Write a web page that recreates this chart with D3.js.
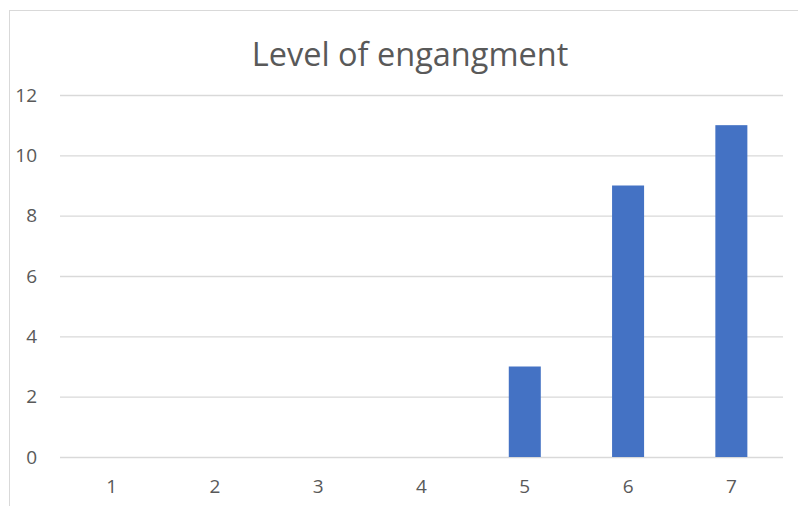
<!DOCTYPE html>
<html>
<head>
<meta charset="utf-8">
<script src="https://cdn.jsdelivr.net/npm/d3@7"></script>
<style>
  body { margin: 0; background: #fff; }
  svg { display: block; }
  svg text { font-family: "Open Sans", "Noto Sans", sans-serif; }
</style>
</head>
<body>
<div class="chart"></div>
<script>
// chart data
var categories = ["1", "2", "3", "4", "5", "6", "7"];
var values = [0, 0, 0, 0, 3, 9, 11];
var yTicks = [0, 2, 4, 6, 8, 10, 12];
var title = "Level of engangment";

var width = 798, height = 506;
var margin = { top: 95, left: 60, right: 15, bottom: 49 };

var svg = d3.select(".chart").append("svg")
  .attr("width", width)
  .attr("height", height);

// outer chart border (runs off the right and bottom)
svg.append("rect")
  .attr("x", 9.5).attr("y", 10.5)
  .attr("width", 820).attr("height", 520)
  .attr("fill", "#fff")
  .attr("stroke", "#d9d9d9");

var x = d3.scaleBand()
  .domain(categories)
  .range([margin.left, width - margin.right])
  .paddingInner(0.69)
  .paddingOuter(0.345);

var y = d3.scaleLinear()
  .domain([0, 12])
  .range([height - margin.bottom, margin.top]);

// gridlines + y labels
var yAxis = svg.append("g")
  .attr("transform", "translate(" + margin.left + ",0)")
  .call(d3.axisLeft(y)
    .tickValues(yTicks)
    .tickSize(-(width - margin.left - margin.right))
    .tickPadding(23));
yAxis.select(".domain").remove();
yAxis.selectAll(".tick line").attr("stroke", "#d9d9d9").attr("stroke-width", 1.3);
yAxis.selectAll(".tick text")
  .attr("fill", "#595959")
  .style("font-size", "19px");

// x labels
var xAxis = svg.append("g")
  .attr("transform", "translate(0," + (height - margin.bottom) + ")")
  .call(d3.axisBottom(x).tickSize(0).tickPadding(23));
xAxis.select(".domain").remove();
xAxis.selectAll(".tick text")
  .attr("fill", "#595959")
  .style("font-size", "19px");

// bars
svg.append("g")
  .selectAll("rect")
  .data(values)
  .enter()
  .append("rect")
  .attr("x", function (d, i) { return x(categories[i]); })
  .attr("y", function (d) { return y(d); })
  .attr("width", x.bandwidth())
  .attr("height", function (d) { return y(0) - y(d); })
  .attr("fill", "#4472c4");

// title
svg.append("text")
  .attr("x", 410)
  .attr("y", 66)
  .attr("text-anchor", "middle")
  .attr("fill", "#595959")
  .style("font-size", "32.5px")
  .text(title);
</script>
</body>
</html>
